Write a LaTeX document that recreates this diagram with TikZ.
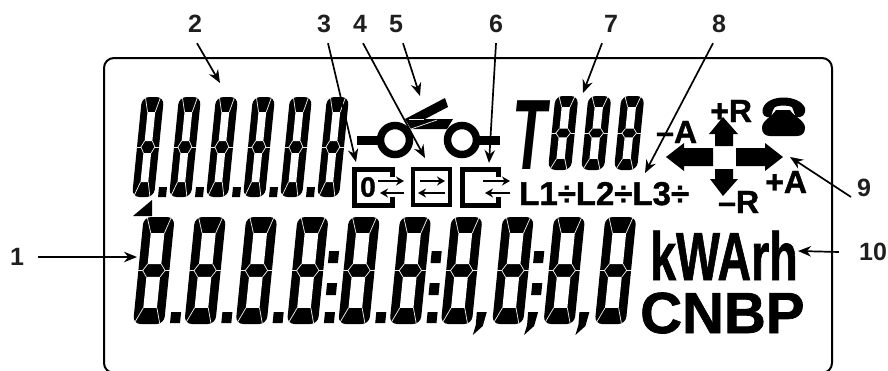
\documentclass[tikz,border=0pt]{standalone}
\usepackage{fontspec}
\setmainfont{Liberation Sans}
\newfontfamily\heavyfont[FakeBold=1.2]{Liberation Sans Bold}
\usetikzlibrary{arrows.meta}
\newcommand{\fsz}[1]{\fontsize{#1}{#1}\selectfont\bfseries}
\newcommand{\hsz}[1]{\fontsize{#1}{#1}\selectfont\heavyfont}
\newcommand{\lcddig}[6]{%
  \pgfmathsetmacro\lcds{0.1*#4}%
  \begin{scope}[shift={(#1,#2)},x={(#3pt,0pt)},y={(\lcds pt,#4pt)}]
    \fill[black,rounded corners=7.5pt] (0,0)--(1,0)--(1,1)--(0,1)--cycle;
    \fill[white] (#5,.85)--(#6,.85)--(#6,.56)--(#5,.56)--cycle;
    \fill[white] (#5,.44)--(#6,.44)--(#6,.15)--(#5,.15)--cycle;
    \draw[seg] (#5,.85)--(#5-.16,.995);
    \draw[seg] (#6,.85)--(#6+.17,.995);
    \draw[seg] (#5,.15)--(#5-.22,.02);
    \draw[seg] (#6,.15)--(#6+.14,.005);
    \draw[seg] (#5,.56)--(#5-.14,.5)--(#5,.44);
    \draw[seg] (#6,.56)--(#6+.14,.5)--(#6,.44);
    \draw[seg] (-.02,.5)--(#5-.14,.5);
    \draw[seg] (#6+.14,.5)--(1.02,.5);
  \end{scope}}
\newcommand{\lcdsq}[4]{\fill (#1,#2)--++(#3,0)--++(.1*#4,-#4)--++(-#3,0)--cycle;}
\newcommand{\lcdcomma}[1]{\fill (#1+36,312)--(#1+46,312)--(#1+42,326)--(#1+32,335)--(#1+35,325)--cycle;}
\tikzset{
  seg/.style={draw=white!85!gray,line width=.75pt},
  numlabel/.style={inner sep=0pt,minimum height=38pt,text=black!88,font=\fsz{25}},
  conn/.style={draw=black,line width=1.7pt,-{Stealth[length=13pt,width=10.5pt]}},
  glyphtext/.style={inner sep=0pt,anchor=base west,font=\hsz{32}},
  tinyarrow/.style={line width=2.8pt,-{Stealth[length=8pt,width=9pt]}},
  iconbox/.style={line width=5pt,miter limit=10}
}
\begin{document}
\begin{tikzpicture}[x=1pt,y=-1pt]
\useasboundingbox (0,0) rectangle (888,370);
\fill[white] (0,0) rectangle (888,370);
\begin{scope}
  \clip (0,0) rectangle (888,370);
  \draw[line width=2pt,rounded corners=10pt] (104,58) rectangle (832,373);
\end{scope}
% upper digits
\foreach \i in {0,...,5}{
  \pgfmathsetmacro\xx{132+37*\i}
  \lcddig{\xx}{197}{22}{100}{.32}{.67}
}
\foreach \i in {0,...,4}{
  \pgfmathsetmacro\xx{158+37*\i}
  \lcdsq{\xx}{197}{8}{10}
}
% marker
\fill (133,216)--(152,200)--(152,216)--cycle;
% lower digits
\foreach \i in {0,...,9}{
  \pgfmathsetmacro\xx{133+51.3*\i}
  \lcddig{\xx}{324}{31}{107}{.28}{.72}
}
\foreach \i in {0,...,5}{
  \pgfmathsetmacro\xx{170+51.3*\i}
  \lcdsq{\xx}{323}{10}{11}
}
\foreach \i in {3,5,7}{
  \pgfmathsetmacro\xx{133+51.3*\i}
  \lcdsq{\xx+39}{295}{10}{12}
  \lcdsq{\xx+41}{263}{10}{12}
}
\foreach \i in {6,7,8}{
  \pgfmathsetmacro\xx{133+51.3*\i}
  \lcdcomma{\xx}
}
% switch symbol
\fill (357,136) rectangle (382,145);
\fill (476,136) rectangle (500,145);
\draw[line width=7.5pt] (395,140) circle (14.5);
\draw[line width=7.5pt] (462,140) circle (14.5);
\fill (405,119)--(445,98)--(448,107)--(425,119)--(453,119)--(447,129)--(411,129)--cycle;
\draw[seg] (411,129)--(437,120);
\draw[seg] (409,119.5)--(424,119.5);
% boxes
\draw[iconbox] (392,177)--(392,169)--(354,169)--(354,205)--(392,205)--(392,197);
\draw[line width=4.5pt] (413,169) rectangle (450,205);
\draw[iconbox] (498,177)--(498,169)--(462,169)--(462,205)--(498,205)--(498,197);
\node[inner sep=0pt,font=\hsz{28}] (zero) at (368,187) {0};
\draw[tinyarrow] (378,181)--(404,181);
\draw[tinyarrow] (404,193)--(380,193);
\draw[tinyarrow] (420,181)--(445,181);
\draw[tinyarrow] (445,193)--(418,193);
\draw[tinyarrow] (483,181)--(510,181);
\draw[tinyarrow] (510,193)--(485,193);
% T888
\node[inner sep=0pt,anchor=base west,xscale=.56,font=\fontsize{100}{100}\selectfont\bfseries\itshape] (tee) at (512,169) {T};
\foreach \i in {0,1,2}{
  \pgfmathsetmacro\xx{548+33*\i}
  \lcddig{\xx}{170}{23}{74}{.32}{.68}
}
% phases
\node[inner sep=0pt,anchor=base west,font=\hsz{33}] (phases) at (519,205) {L1÷L2÷L3÷};
% cross arrows
\fill (723,117)--(738,134)--(733,134)--(733,146)--(715,146)--(715,134)--(709,134)--cycle;
\fill (723,196)--(738,179)--(733,179)--(733,169)--(715,169)--(715,179)--(710,179)--cycle;
\fill (666,157)--(684,143)--(684,148)--(713,148)--(713,166)--(684,166)--(684,171)--cycle;
\fill (783,157)--(765,143)--(765,148)--(736,148)--(736,166)--(765,166)--(765,171)--cycle;
\node[glyphtext] (pr) at (710,122) {+R};
\node[glyphtext] (ma) at (656,143) {–A};
\node[glyphtext] (pa) at (765,193) {+A};
\node[glyphtext] (mr) at (718,213) {–R};
% phone
\fill (763,108) .. controls (768,94) and (799,94) .. (805,108)
  .. controls (806,115) and (802,118) .. (796,117)
  .. controls (794,113) and (793,109) .. (792,107)
  .. controls (788,105) and (778,105) .. (775,107)
  .. controls (773,109) and (772,113) .. (771,117)
  .. controls (765,118) and (761,115) .. (763,108) -- cycle;
\fill (776,110)--(790,110) .. controls (794,117) and (805,120) .. (805,128)
  .. controls (805,133) and (802,136) .. (797,136) -- (770,136)
  .. controls (765,136) and (762,133) .. (762,128)
  .. controls (762,120) and (772,117) .. (776,110) -- cycle;
% units
\node[inner sep=0pt,anchor=base west,xscale=.685,font=\hsz{68}] (kwh) at (650,280) {kWArh};
\node[inner sep=0pt,anchor=base west,font=\hsz{58}] (cnbp) at (640,333) {CNBP};
% number labels
\node[numlabel] (l1) at (17,257) {1};
\node[numlabel] (l2) at (195,24) {2};
\node[numlabel] (l3) at (324,24) {3};
\node[numlabel] (l4) at (360,24) {4};
\node[numlabel] (l5) at (396,24) {5};
\node[numlabel] (l6) at (496,24) {6};
\node[numlabel] (l7) at (611,24) {7};
\node[numlabel] (l8) at (719,24) {8};
\node[numlabel] (l9) at (864,188) {9};
\node[numlabel] (l10) at (873,252) {10};
% arrow ends
\coordinate (t1) at (137,257);
\coordinate (t2) at (220,83);
\coordinate (t3) at (356,162);
\coordinate (t4) at (425,158);
\coordinate (t5) at (420,96);
\coordinate (t6) at (489,163);
\coordinate (t7) at (583,93);
\coordinate (t8) at (645,173);
\coordinate (t9) at (790,157);
\coordinate (t10) at (798,251);
\draw[conn] ([xshift=14pt]l1.east) -- (t1);
\draw[conn] ([xshift=2pt]l2.south) -- (t2);
\draw[conn] ([xshift=4pt]l3.south) -- (t3);
\draw[conn] ([xshift=3pt]l4.south) -- (t4);
\draw[conn] ([xshift=7pt]l5.south) -- (t5);
\draw[conn] (l6.south) -- (t6);
\draw[conn] ([xshift=-9pt]l7.south) -- (t7);
\draw[conn] ([xshift=-6pt]l8.south) -- (t8);
\draw[conn] ([xshift=-13pt,yshift=-9pt]l9.center) -- (t9);
\draw[conn] ([xshift=-20pt,yshift=0pt]l10.west) -- (t10);
\end{tikzpicture}
\end{document}
